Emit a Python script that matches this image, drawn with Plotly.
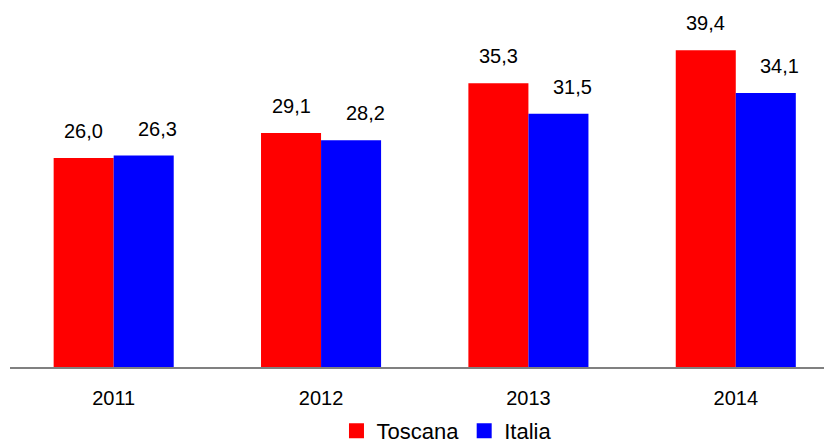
import plotly.graph_objects as go

years = ["2011", "2012", "2013", "2014"]
toscana = [26.0, 29.1, 35.3, 39.4]
italia = [26.3, 28.2, 31.5, 34.1]
series_names = ["Toscana", "Italia"]
series_colors = ["#ff0000", "#0000ff"]

FONT = "Liberation Sans, Arial, sans-serif"

fig = go.Figure()
for name, vals, col in zip(series_names, [toscana, italia], series_colors):
    fig.add_trace(go.Bar(x=years, y=vals, name=name, marker_color=col,
                         marker_line_width=0, showlegend=False))
    # legend proxy with a larger square symbol
    fig.add_trace(go.Scatter(x=[None], y=[None], mode="markers", name=name,
                             marker=dict(symbol="square", size=15, color=col)))


def fmt(v):
    return f"{v:.1f}".replace(".", ",")

annotations = []
for vals, xs in [(toscana, -30), (italia, 44)]:
    for i, v in enumerate(vals):
        annotations.append(dict(x=i, y=v, xref="x", yref="y", text=fmt(v),
                                showarrow=False, xshift=xs, yshift=14,
                                yanchor="bottom",
                                font=dict(family=FONT, size=20, color="#000")))

fig.update_layout(
    width=832, height=444,
    margin=dict(l=2, r=8, t=0, b=84.5, autoexpand=False),
    paper_bgcolor="white", plot_bgcolor="white",
    barmode="group", bargap=0.421, bargroupgap=0,
    font=dict(family=FONT, size=20, color="#000"),
    annotations=annotations,
    showlegend=True,
    legend=dict(orientation="h", x=0.531, xanchor="center",
                yref="container", y=0, yanchor="bottom",
                font=dict(family=FONT, size=22, color="#000"),
                itemsizing="trace", tracegroupgap=0, itemwidth=30),
)
fig.update_xaxes(type="category", range=[-0.5, 3.464], showline=True,
                 linecolor="#808080", linewidth=1.5, ticks="outside",
                 ticklen=12, tickcolor="rgba(0,0,0,0)", showgrid=False,
                 zeroline=False, tickfont=dict(family=FONT, size=20),
                 automargin=False)
fig.update_yaxes(range=[0, 44.66], visible=False, showgrid=False, zeroline=False,
                 automargin=False)

fig.write_html("out.html")
